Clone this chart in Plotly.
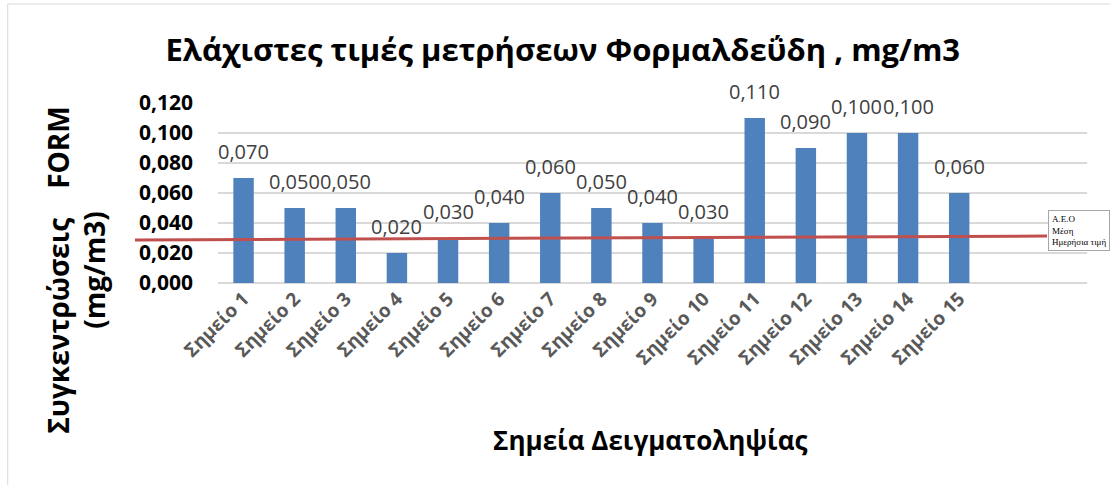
import plotly.graph_objects as go

categories = [f"Σημείο {i}" for i in range(1, 16)] + ["", " "]
values = [0.070, 0.050, 0.050, 0.020, 0.030, 0.040, 0.060, 0.050, 0.040, 0.030,
          0.110, 0.090, 0.100, 0.100, 0.060]
aeo_line = [0.0287, 0.0313]  # Α.Ε.Ο reference line, start/end values
y_ticks = [0.0, 0.02, 0.04, 0.06, 0.08, 0.10, 0.12]

FONT = "Open Sans"

fig = go.Figure()
fig.add_trace(go.Bar(
    x=categories[:len(values)], y=values,
    marker=dict(color="#4F81BD", line=dict(width=0)),
    showlegend=False, hoverinfo="x+y",
))

for c, v in zip(categories, values):
    fig.add_annotation(x=c, y=v, yanchor="bottom", yshift=11, showarrow=False,
                       text=f"{v:.3f}".replace(".", ","),
                       font=dict(family=FONT, size=20, color="#404040"))

fig.add_shape(type="line", xref="paper", yref="y",
              x0=-0.0955, x1=0.954, y0=aeo_line[0], y1=aeo_line[1],
              line=dict(color="#C0504D", width=3), layer="above")

fig.add_annotation(xref="paper", yref="paper", x=0.955, y=0.405,
                   xanchor="left", yanchor="top", showarrow=False, align="left",
                   text="Α.Ε.Ο<br>Μέση<br>Ημερήσια τιμή",
                   font=dict(family="Liberation Serif", size=9, color="#000000"),
                   bordercolor="#A6A6A6", borderwidth=1, borderpad=3, bgcolor="white")

fig.add_annotation(xref="paper", yref="paper", x=-0.163, y=0.07,
                   xanchor="center", yanchor="middle", showarrow=False, textangle=-90,
                   text="Συγκεντρώσεις    FORM<br>(mg/m3)",
                   font=dict(family=FONT, size=28, color="#000000", weight="bold"))

fig.add_annotation(xref="paper", yref="paper", x=0.497, y=-0.872,
                   xanchor="center", yanchor="middle", showarrow=False,
                   text="Σημεία Δειγματοληψίας",
                   font=dict(family=FONT, size=26, color="#000000", weight="bold"))

fig.add_shape(type="rect", xref="paper", yref="paper",
              x0=-0.242, x1=1.2, y0=1.55, y1=-1.3,
              line=dict(color="#D9D9D9", width=1), layer="below")

fig.update_layout(
    width=1110, height=485, autosize=False,
    margin=dict(l=218, r=23, t=103, b=202),
    paper_bgcolor="white", plot_bgcolor="white",
    separators=",.",
    bargap=0.6,
    title=dict(text="Ελάχιστες τιμές μετρήσεων Φορμαλδεΰδη , mg/m3",
               x=0.507, xanchor="center", y=0.897, yanchor="middle",
               font=dict(family=FONT, size=31, color="#000000", weight="bold")),
    xaxis=dict(type="category", categoryorder="array", categoryarray=categories,
               range=[-0.5, 16.5], tickangle=-45, showgrid=False, showline=False,
               ticks="", automargin=False,
               tickfont=dict(family=FONT, size=19, color="#595959", weight="bold")),
    yaxis=dict(range=[0, 0.12], tickvals=y_ticks, tickformat=".3f",
               showgrid=True, gridcolor="#D9D9D9", gridwidth=1.5,
               zeroline=True, zerolinecolor="#D9D9D9", zerolinewidth=1.5,
               showline=False, ticks="", ticklabelstandoff=24, automargin=False,
               tickfont=dict(family=FONT, size=21, color="#000000", weight="bold")),
)

fig.write_html("out.html", config={"displayModeBar": False},
               post_script="document.body.style.margin='0';")
